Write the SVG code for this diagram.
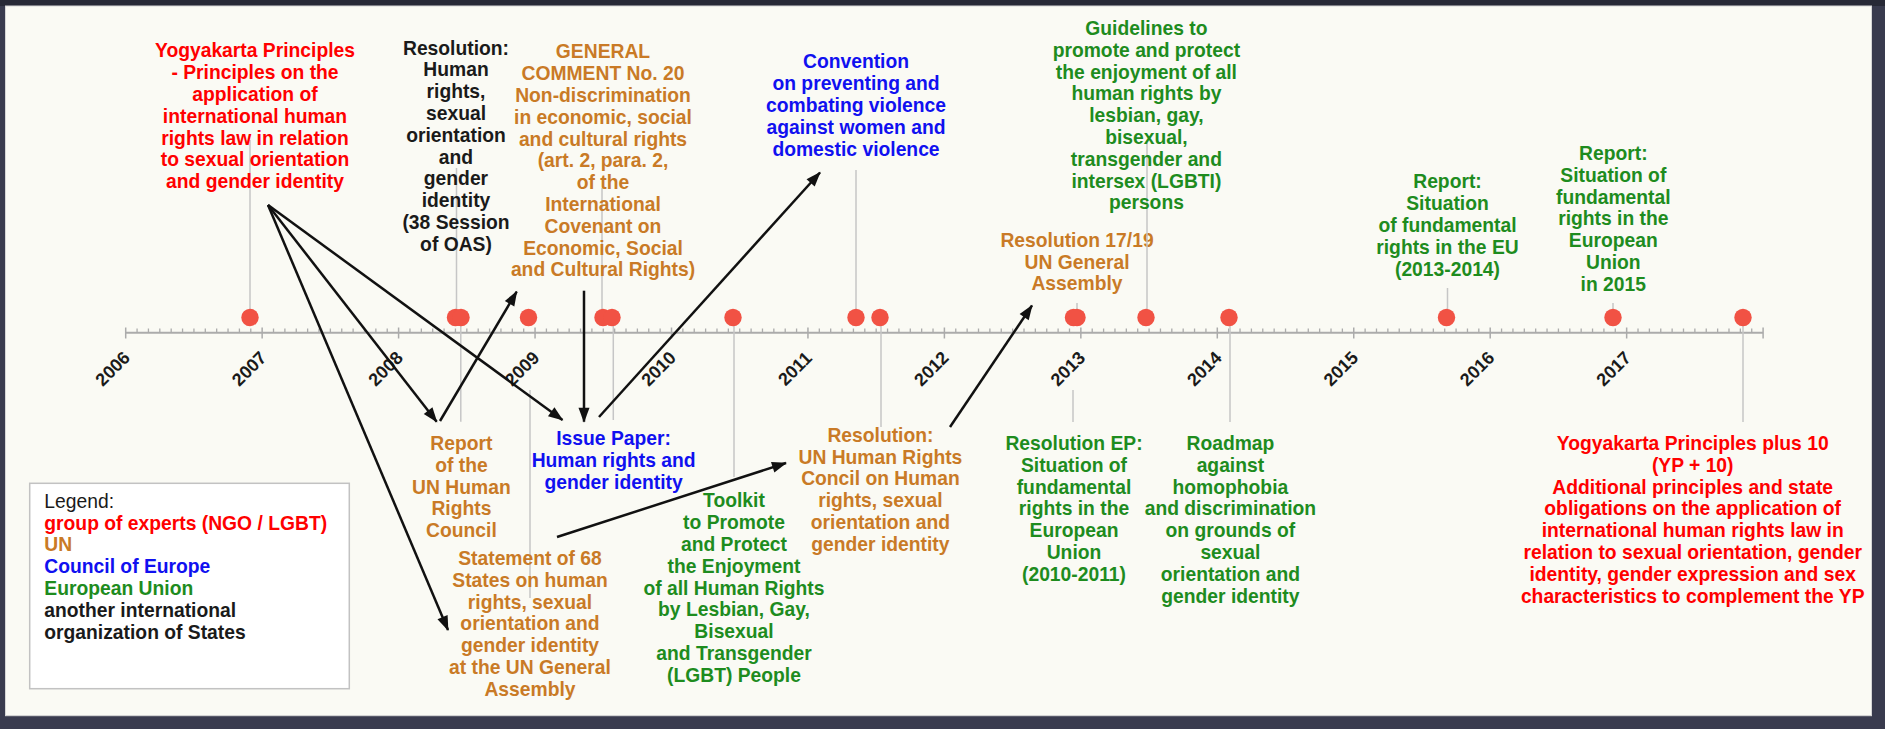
<svg xmlns="http://www.w3.org/2000/svg" width="1885" height="729" viewBox="0 0 1885 729">
<style>
.t{font-family:"Liberation Sans",Arial,sans-serif;font-size:19.3px;font-weight:bold;text-anchor:middle}
.lg{font-family:"Liberation Sans",Arial,sans-serif;font-size:19.3px;font-weight:bold}
.yr{font-family:"Liberation Sans",Arial,sans-serif;font-size:18px;font-weight:bold;text-anchor:middle;fill:#1a1a1a}
.red{fill:#ff0000}.un{fill:#c97a26}.coe{fill:#1010f0}.eu{fill:#1e8c1e}.blk{fill:#1a1a1a}
.stem{stroke:#c6c6c6;stroke-width:1.5;fill:none}
.dot{fill:#f15244}
.arr{stroke:#111;stroke-width:2.5;fill:none;marker-end:url(#ah)}
</style>
<defs>
<marker id="ah" markerUnits="userSpaceOnUse" markerWidth="15" markerHeight="11" refX="14" refY="5.5" orient="auto" overflow="visible">
<path d="M0,0 L15,5.5 L0,11 z" fill="#111"/>
</marker>
</defs>
<rect x="0" y="0" width="1885" height="729" fill="#393b4e"/>
<rect x="0" y="0" width="1885" height="6" fill="#272936"/>
<rect x="5.5" y="6" width="1866" height="709.7" fill="#fafaf4" stroke="#d6d6d6" stroke-width="1"/>

<g id="axis">
<line x1="125.7" y1="332.7" x2="1763.1" y2="332.7" stroke="#ababab" stroke-width="2"/>
<path stroke="#ababab" stroke-width="1.5" fill="none" d="M125.7 327.5v11M262.15 327.5v11M398.6 327.5v11M535.05 327.5v11M671.5 327.5v11M807.95 327.5v11M944.4 327.5v11M1080.85 327.5v11M1217.3 327.5v11M1353.75 327.5v11M1490.2 327.5v11M1626.65 327.5v11M1763.1 327.5v11"/>
<path stroke="#ababab" stroke-width="1.3" fill="none" d="
M137.07 328.5v4.2M148.44 328.5v4.2M159.81 328.5v4.2M171.18 328.5v4.2M182.55 328.5v4.2M193.93 328.5v4.2M205.3 328.5v4.2M216.67 328.5v4.2M228.04 328.5v4.2M239.41 328.5v4.2M250.78 328.5v4.2
M273.52 328.5v4.2M284.89 328.5v4.2M296.26 328.5v4.2M307.63 328.5v4.2M319 328.5v4.2M330.38 328.5v4.2M341.75 328.5v4.2M353.12 328.5v4.2M364.49 328.5v4.2M375.86 328.5v4.2M387.23 328.5v4.2
M409.97 328.5v4.2M421.34 328.5v4.2M432.71 328.5v4.2M444.08 328.5v4.2M455.45 328.5v4.2M466.83 328.5v4.2M478.2 328.5v4.2M489.57 328.5v4.2M500.94 328.5v4.2M512.31 328.5v4.2M523.68 328.5v4.2
M546.42 328.5v4.2M557.79 328.5v4.2M569.16 328.5v4.2M580.53 328.5v4.2M591.9 328.5v4.2M603.28 328.5v4.2M614.65 328.5v4.2M626.02 328.5v4.2M637.39 328.5v4.2M648.76 328.5v4.2M660.13 328.5v4.2
M682.87 328.5v4.2M694.24 328.5v4.2M705.61 328.5v4.2M716.98 328.5v4.2M728.35 328.5v4.2M739.73 328.5v4.2M751.1 328.5v4.2M762.47 328.5v4.2M773.84 328.5v4.2M785.21 328.5v4.2M796.58 328.5v4.2
M819.32 328.5v4.2M830.69 328.5v4.2M842.06 328.5v4.2M853.43 328.5v4.2M864.8 328.5v4.2M876.18 328.5v4.2M887.55 328.5v4.2M898.92 328.5v4.2M910.29 328.5v4.2M921.66 328.5v4.2M933.03 328.5v4.2
M955.77 328.5v4.2M967.14 328.5v4.2M978.51 328.5v4.2M989.88 328.5v4.2M1001.25 328.5v4.2M1012.63 328.5v4.2M1024 328.5v4.2M1035.37 328.5v4.2M1046.74 328.5v4.2M1058.11 328.5v4.2M1069.48 328.5v4.2
M1092.22 328.5v4.2M1103.59 328.5v4.2M1114.96 328.5v4.2M1126.33 328.5v4.2M1137.7 328.5v4.2M1149.08 328.5v4.2M1160.45 328.5v4.2M1171.82 328.5v4.2M1183.19 328.5v4.2M1194.56 328.5v4.2M1205.93 328.5v4.2
M1228.67 328.5v4.2M1240.04 328.5v4.2M1251.41 328.5v4.2M1262.78 328.5v4.2M1274.15 328.5v4.2M1285.53 328.5v4.2M1296.9 328.5v4.2M1308.27 328.5v4.2M1319.64 328.5v4.2M1331.01 328.5v4.2M1342.38 328.5v4.2
M1365.12 328.5v4.2M1376.49 328.5v4.2M1387.86 328.5v4.2M1399.23 328.5v4.2M1410.6 328.5v4.2M1421.98 328.5v4.2M1433.35 328.5v4.2M1444.72 328.5v4.2M1456.09 328.5v4.2M1467.46 328.5v4.2M1478.83 328.5v4.2
M1501.57 328.5v4.2M1512.94 328.5v4.2M1524.31 328.5v4.2M1535.68 328.5v4.2M1547.05 328.5v4.2M1558.43 328.5v4.2M1569.8 328.5v4.2M1581.17 328.5v4.2M1592.54 328.5v4.2M1603.91 328.5v4.2M1615.28 328.5v4.2
M1638.02 328.5v4.2M1649.39 328.5v4.2M1660.76 328.5v4.2M1672.13 328.5v4.2M1683.5 328.5v4.2M1694.88 328.5v4.2M1706.25 328.5v4.2M1717.62 328.5v4.2M1728.99 328.5v4.2M1740.36 328.5v4.2M1751.73 328.5v4.2"/>
<text class="yr" transform="translate(117,373) rotate(-45)">2006</text>
<text class="yr" transform="translate(253.45,373) rotate(-45)">2007</text>
<text class="yr" transform="translate(389.9,373) rotate(-45)">2008</text>
<text class="yr" transform="translate(526.35,373) rotate(-45)">2009</text>
<text class="yr" transform="translate(662.8,373) rotate(-45)">2010</text>
<text class="yr" transform="translate(799.25,373) rotate(-45)">2011</text>
<text class="yr" transform="translate(935.7,373) rotate(-45)">2012</text>
<text class="yr" transform="translate(1072.15,373) rotate(-45)">2013</text>
<text class="yr" transform="translate(1208.6,373) rotate(-45)">2014</text>
<text class="yr" transform="translate(1345.05,373) rotate(-45)">2015</text>
<text class="yr" transform="translate(1481.5,373) rotate(-45)">2016</text>
<text class="yr" transform="translate(1617.95,373) rotate(-45)">2017</text>
</g>

<g id="n-yogyakarta">
<line class="stem" x1="250" y1="140" x2="250" y2="317.5"/>
<circle class="dot" cx="250" cy="317.5" r="8.7"/>
<text class="t red" y="57.4"><tspan x="255">Yogyakarta Principles</tspan><tspan x="255" dy="21.8">- Principles on the</tspan><tspan x="255" dy="21.8">application of</tspan><tspan x="255" dy="21.8">international human</tspan><tspan x="255" dy="21.8">rights law in relation</tspan><tspan x="255" dy="21.8">to sexual orientation</tspan><tspan x="255" dy="21.8">and gender identity</tspan></text>
</g>

<g id="n-oas-resolution">
<line class="stem" x1="456.5" y1="168" x2="456.5" y2="317.5"/>
<circle class="dot" cx="455.5" cy="317.5" r="8.7"/>
<text class="t blk" y="54.5"><tspan x="456">Resolution:</tspan><tspan x="456" dy="21.8">Human</tspan><tspan x="456" dy="21.8">rights,</tspan><tspan x="456" dy="21.8">sexual</tspan><tspan x="456" dy="21.8">orientation</tspan><tspan x="456" dy="21.8">and</tspan><tspan x="456" dy="21.8">gender</tspan><tspan x="456" dy="21.8">identity</tspan><tspan x="456" dy="21.8">(38 Session</tspan><tspan x="456" dy="21.8">of OAS)</tspan></text>
</g>

<g id="n-report-unhrc">
<line class="stem" x1="460.8" y1="317.5" x2="460.8" y2="421.7"/>
<circle class="dot" cx="461" cy="317.5" r="8.7"/>
<text class="t un" y="450"><tspan x="461.4">Report</tspan><tspan x="461.4" dy="21.8">of the</tspan><tspan x="461.4" dy="21.8">UN Human</tspan><tspan x="461.4" dy="21.8">Rights</tspan><tspan x="461.4" dy="21.8">Council</tspan></text>
</g>

<g id="n-statement-68">
<line class="stem" x1="530" y1="390" x2="530" y2="598"/>
<circle class="dot" cx="528.5" cy="317.5" r="8.7"/>
<text class="t un" y="565"><tspan x="530">Statement of 68</tspan><tspan x="530" dy="21.8">States on human</tspan><tspan x="530" dy="21.8">rights, sexual</tspan><tspan x="530" dy="21.8">orientation and</tspan><tspan x="530" dy="21.8">gender identity</tspan><tspan x="530" dy="21.8">at the UN General</tspan><tspan x="530" dy="21.8">Assembly</tspan></text>
</g>

<g id="n-general-comment">
<line class="stem" x1="602" y1="188" x2="602" y2="317.5"/>
<circle class="dot" cx="603" cy="317.5" r="8.7"/>
<text class="t un" y="58.4"><tspan x="603">GENERAL</tspan><tspan x="603" dy="21.8">COMMENT No. 20</tspan><tspan x="603" dy="21.8">Non-discrimination</tspan><tspan x="603" dy="21.8">in economic, social</tspan><tspan x="603" dy="21.8">and cultural rights</tspan><tspan x="603" dy="21.8">(art. 2, para. 2,</tspan><tspan x="603" dy="21.8">of the</tspan><tspan x="603" dy="21.8">International</tspan><tspan x="603" dy="21.8">Covenant on</tspan><tspan x="603" dy="21.8">Economic, Social</tspan><tspan x="603" dy="21.8">and Cultural Rights)</tspan></text>
</g>

<g id="n-issue-paper">
<line class="stem" x1="613.3" y1="317.5" x2="613.3" y2="420"/>
<circle class="dot" cx="612" cy="317.5" r="8.7"/>
<text class="t coe" y="445"><tspan x="613.6">Issue Paper:</tspan><tspan x="613.6" dy="21.8">Human rights and</tspan><tspan x="613.6" dy="21.8">gender identity</tspan></text>
</g>

<g id="n-toolkit">
<line class="stem" x1="734" y1="317.5" x2="734" y2="477"/>
<circle class="dot" cx="733" cy="317.5" r="8.7"/>
<text class="t eu" y="507.4"><tspan x="734">Toolkit</tspan><tspan x="734" dy="21.8">to Promote</tspan><tspan x="734" dy="21.8">and Protect</tspan><tspan x="734" dy="21.8">the Enjoyment</tspan><tspan x="734" dy="21.8">of all Human Rights</tspan><tspan x="734" dy="21.8">by Lesbian, Gay,</tspan><tspan x="734" dy="21.8">Bisexual</tspan><tspan x="734" dy="21.8">and Transgender</tspan><tspan x="734" dy="21.8">(LGBT) People</tspan></text>
</g>

<g id="n-convention">
<line class="stem" x1="856" y1="170" x2="856" y2="317.5"/>
<circle class="dot" cx="856" cy="317.5" r="8.7"/>
<text class="t coe" y="68.4"><tspan x="856">Convention</tspan><tspan x="856" dy="21.8">on preventing and</tspan><tspan x="856" dy="21.8">combating violence</tspan><tspan x="856" dy="21.8">against women and</tspan><tspan x="856" dy="21.8">domestic violence</tspan></text>
</g>

<g id="n-resolution-unhrc">
<line class="stem" x1="881" y1="317.5" x2="881" y2="427"/>
<circle class="dot" cx="880" cy="317.5" r="8.7"/>
<text class="t un" y="441.7"><tspan x="880.4">Resolution:</tspan><tspan x="880.4" dy="21.8">UN Human Rights</tspan><tspan x="880.4" dy="21.8">Concil on Human</tspan><tspan x="880.4" dy="21.8">rights, sexual</tspan><tspan x="880.4" dy="21.8">orientation and</tspan><tspan x="880.4" dy="21.8">gender identity</tspan></text>
</g>

<g id="n-resolution-17-19">
<line class="stem" x1="1077" y1="303" x2="1077" y2="317.5"/>
<circle class="dot" cx="1077" cy="317.5" r="8.7"/>
<text class="t un" y="246.7"><tspan x="1077">Resolution 17/19</tspan><tspan x="1077" dy="21.8">UN General</tspan><tspan x="1077" dy="21.8">Assembly</tspan></text>
</g>

<g id="n-resolution-ep">
<line class="stem" x1="1073" y1="390" x2="1073" y2="422"/>
<circle class="dot" cx="1073.5" cy="317.5" r="8.7"/>
<text class="t eu" y="450"><tspan x="1074">Resolution EP:</tspan><tspan x="1074" dy="21.8">Situation of</tspan><tspan x="1074" dy="21.8">fundamental</tspan><tspan x="1074" dy="21.8">rights in the</tspan><tspan x="1074" dy="21.8">European</tspan><tspan x="1074" dy="21.8">Union</tspan><tspan x="1074" dy="21.8">(2010-2011)</tspan></text>
</g>

<g id="n-guidelines">
<line class="stem" x1="1147" y1="143" x2="1147" y2="317.5"/>
<circle class="dot" cx="1146" cy="317.5" r="8.7"/>
<text class="t eu" y="35"><tspan x="1146.4">Guidelines to</tspan><tspan x="1146.4" dy="21.8">promote and protect</tspan><tspan x="1146.4" dy="21.8">the enjoyment of all</tspan><tspan x="1146.4" dy="21.8">human rights by</tspan><tspan x="1146.4" dy="21.8">lesbian, gay,</tspan><tspan x="1146.4" dy="21.8">bisexual,</tspan><tspan x="1146.4" dy="21.8">transgender and</tspan><tspan x="1146.4" dy="21.8">intersex (LGBTI)</tspan><tspan x="1146.4" dy="21.8">persons</tspan></text>
</g>

<g id="n-roadmap">
<line class="stem" x1="1230" y1="317.5" x2="1230" y2="422"/>
<circle class="dot" cx="1229" cy="317.5" r="8.7"/>
<text class="t eu" y="450"><tspan x="1230.4">Roadmap</tspan><tspan x="1230.4" dy="21.8">against</tspan><tspan x="1230.4" dy="21.8">homophobia</tspan><tspan x="1230.4" dy="21.8">and discrimination</tspan><tspan x="1230.4" dy="21.8">on grounds of</tspan><tspan x="1230.4" dy="21.8">sexual</tspan><tspan x="1230.4" dy="21.8">orientation and</tspan><tspan x="1230.4" dy="21.8">gender identity</tspan></text>
</g>

<g id="n-report-2013-2014">
<line class="stem" x1="1447.5" y1="288" x2="1447.5" y2="317.5"/>
<circle class="dot" cx="1446.5" cy="317.5" r="8.7"/>
<text class="t eu" y="188.4"><tspan x="1447.5">Report:</tspan><tspan x="1447.5" dy="21.8">Situation</tspan><tspan x="1447.5" dy="21.8">of fundamental</tspan><tspan x="1447.5" dy="21.8">rights in the EU</tspan><tspan x="1447.5" dy="21.8">(2013-2014)</tspan></text>
</g>

<g id="n-report-2015">
<line class="stem" x1="1613" y1="303" x2="1613" y2="317.5"/>
<circle class="dot" cx="1613" cy="317.5" r="8.7"/>
<text class="t eu" y="160"><tspan x="1613.3">Report:</tspan><tspan x="1613.3" dy="21.8">Situation of</tspan><tspan x="1613.3" dy="21.8">fundamental</tspan><tspan x="1613.3" dy="21.8">rights in the</tspan><tspan x="1613.3" dy="21.8">European</tspan><tspan x="1613.3" dy="21.8">Union</tspan><tspan x="1613.3" dy="21.8">in 2015</tspan></text>
</g>

<g id="n-yp-plus-10">
<line class="stem" x1="1743" y1="317.5" x2="1743" y2="422"/>
<circle class="dot" cx="1743" cy="317.5" r="8.7"/>
<text class="t red" y="450"><tspan x="1692.7">Yogyakarta Principles plus 10</tspan><tspan x="1692.7" dy="21.8">(YP + 10)</tspan><tspan x="1692.7" dy="21.8">Additional principles and state</tspan><tspan x="1692.7" dy="21.8">obligations on the application of</tspan><tspan x="1692.7" dy="21.8">international human rights law in</tspan><tspan x="1692.7" dy="21.8">relation to sexual orientation, gender</tspan><tspan x="1692.7" dy="21.8">identity, gender expression and sex</tspan><tspan x="1692.7" dy="21.8">characteristics to complement the YP</tspan></text>
</g>

<g id="legend">
<rect x="29.7" y="483.3" width="319.6" height="205.4" fill="#ffffff" stroke="#c2c2c2" stroke-width="1.5"/>
<text class="lg blk" x="44.3" y="507.7" style="font-weight:normal">Legend:</text>
<text class="lg red" x="44.3" y="529.5">group of experts (NGO / LGBT)</text>
<text class="lg un" x="44.3" y="551.3">UN</text>
<text class="lg coe" x="44.3" y="573.1">Council of Europe</text>
<text class="lg eu" x="44.3" y="594.9">European Union</text>
<text class="lg blk" x="44.3" y="616.7">another international</text>
<text class="lg blk" x="44.3" y="638.5">organization of States</text>
</g>

<g id="connectors">
<line class="arr" x1="268" y1="205" x2="436.7" y2="421.7"/>
<line class="arr" x1="268" y1="205" x2="562.5" y2="420"/>
<line class="arr" x1="268" y1="205" x2="448" y2="630"/>
<line class="arr" x1="440" y1="421" x2="516.7" y2="291.7"/>
<line class="arr" x1="584" y1="290.7" x2="584" y2="421.7"/>
<line class="arr" x1="599" y1="417" x2="820" y2="172.5"/>
<line class="arr" x1="557" y1="537" x2="786" y2="463"/>
<line class="arr" x1="950" y1="427" x2="1032" y2="305.5"/>
</g>
</svg>
